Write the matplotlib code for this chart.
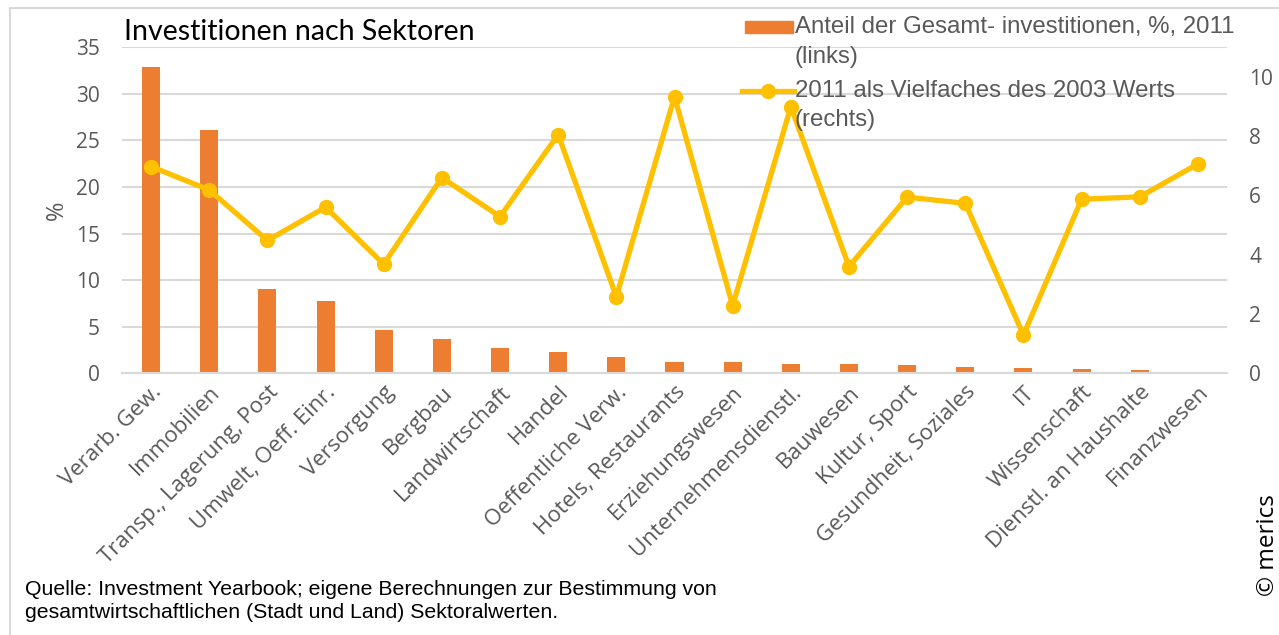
import matplotlib
matplotlib.use("Agg")
import matplotlib.pyplot as plt
import numpy as np
from matplotlib.patches import Rectangle
from matplotlib.lines import Line2D

sectors = ["Verarb. Gew.", "Immobilien", "Transp., Lagerung, Post", "Umwelt, Oeff. Einr.",
           "Versorgung", "Bergbau", "Landwirtschaft", "Handel", "Oeffentliche Verw.",
           "Hotels, Restaurants", "Erziehungswesen", "Unternehmensdienstl.", "Bauwesen",
           "Kultur, Sport", "Gesundheit, Soziales", "IT", "Wissenschaft",
           "Dienstl. an Haushalte", "Finanzwesen"]
share_2011 = [32.9, 26.1, 9.0, 7.8, 4.6, 3.7, 2.7, 2.3, 1.7, 1.2, 1.2, 1.0, 1.0,
              0.9, 0.65, 0.6, 0.45, 0.35, 0.15]
multiple_2003 = [6.97, 6.18, 4.48, 5.6, 3.68, 6.6, 5.28, 8.05, 2.58, 9.33, 2.28,
                 8.99, 3.6, 5.94, 5.73, 1.29, 5.87, 5.95, 7.06]
left_ticks = [0, 5, 10, 15, 20, 25, 30, 35]
right_ticks = [0, 2, 4, 6, 8, 10]

orange = "#ED7D31"
yellow = "#FFC000"
grey_txt = "#595959"
grid_c = "#D9D9D9"

W, H = 1279, 635
fig = plt.figure(figsize=(12.79, 6.35), dpi=100)
ax = fig.add_axes([122 / W, 1 - 373.3 / H, 1105 / W, 326 / H])
x = np.arange(len(sectors))

ax.bar(x, share_2011, width=0.31, color=orange, zorder=2)
ax.set_xlim(-0.5, len(sectors) - 0.5)
ax.set_ylim(0, 35)
ax.set_yticks(left_ticks)
ax.yaxis.grid(True, color=grid_c, linewidth=1.5, zorder=0)
ax.set_axisbelow(True)
for s in ax.spines.values():
    s.set_visible(False)
ax.spines["bottom"].set_visible(True)
ax.spines["bottom"].set_color(grid_c)
ax.spines["bottom"].set_linewidth(1.5)
ax.tick_params(axis="y", length=0, labelsize=15, labelcolor=grey_txt, pad=16)
ax.tick_params(axis="x", length=0, pad=6)
ax.set_xticks(x)
ax.set_xticklabels(sectors, rotation=45, ha="right", rotation_mode="anchor",
                   fontsize=16, color=grey_txt, family="Open Sans")
for lab in ax.get_yticklabels():
    lab.set_family("Open Sans")
ax.set_ylabel("%", fontsize=17, color=grey_txt, family="Open Sans", labelpad=5)

ax2 = ax.twinx()
ax2.plot(x, multiple_2003, color=yellow, linewidth=3.8, marker="o", markersize=10, zorder=3)
ax2.set_ylim(0, 326 / 29.66)
ax2.set_yticks(right_ticks)
for s in ax2.spines.values():
    s.set_visible(False)
ax2.tick_params(length=0, labelsize=15, labelcolor=grey_txt, pad=16)
for lab in ax2.get_yticklabels():
    lab.set_family("Open Sans")

fig.text(124 / W, 1 - 40 / H, "Investitionen nach Sektoren", fontsize=20.5,
         family="Lato", color="black")

# legend, drawn by hand so the key sits on the first line of each label
fig.patches.append(Rectangle((745 / W, 1 - 33.3 / H), 48 / W, 12.6 / H,
                             transform=fig.transFigure, color=orange))
fig.lines.append(Line2D([742 / W, 794 / W], [1 - 91 / H, 1 - 91 / H],
                        transform=fig.transFigure, color=yellow, linewidth=3.8))
fig.lines.append(Line2D([768 / W], [1 - 91 / H], transform=fig.transFigure,
                        color=yellow, marker="o", markersize=10))
leg_kw = dict(fontsize=17.3, family="Liberation Sans", color=grey_txt, va="center")
fig.text(795 / W, 1 - 27 / H, "Anteil der Gesamt- investitionen, %, 2011", **leg_kw)
fig.text(795 / W, 1 - 57 / H, "(links)", **leg_kw)
fig.text(795 / W, 1 - 91 / H, "2011 als Vielfaches des 2003 Werts", **leg_kw)
fig.text(795 / W, 1 - 120 / H, "(rechts)", **leg_kw)

fig.text(25 / W, 1 - 601 / H,
         "Quelle: Investment Yearbook; eigene Berechnungen zur Bestimmung von\n"
         "gesamtwirtschaftlichen (Stadt und Land) Sektoralwerten.",
         fontsize=15.3, family="Liberation Sans", va="center",
         linespacing=1.25, color="black")
fig.text(1268 / W, 1 - 545 / H, "© merics", rotation=90, fontsize=17.5,
         family="Open Sans", va="center", ha="center", color="black")

fig.patches.append(Rectangle((10 / W, -0.1), 1.1, 1.1 - 8 / H,
                             transform=fig.transFigure, fill=False,
                             edgecolor=grid_c, linewidth=1.5))

fig.savefig("out.png", dpi=100)
